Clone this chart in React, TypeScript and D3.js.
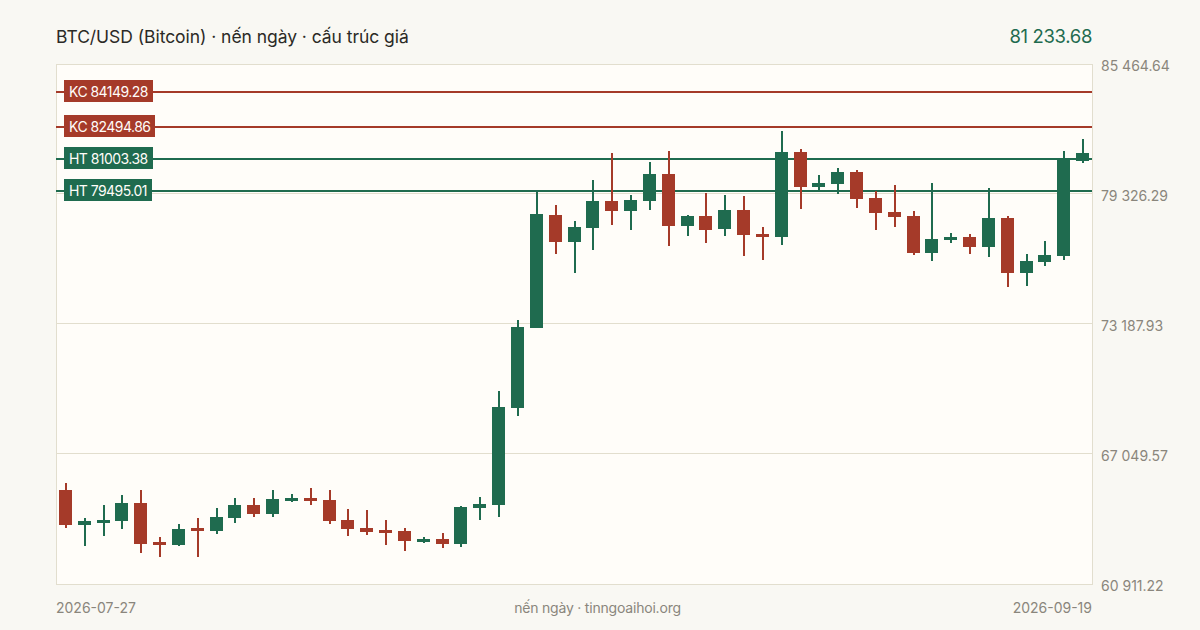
import { useEffect, useRef } from "react";
import * as d3 from "d3";

const FONT = "Inter, 'Noto Sans', sans-serif";
const GREEN = "#1f6b4f";
const RED = "#a53a29";

const titleText = "BTC/USD (Bitcoin) · nến ngày · cấu trúc giá";
const lastPriceText = "81 233.68";
const sourceText = "nến ngày · tinngoaihoi.org";
const firstDate = "2026-07-27";
const lastDate = "2026-09-19";

const priceTop = 85464.64;
const priceBottom = 60911.22;
const gridValues = [79326.29, 73187.93, 67049.57];
const axisValues = [85464.64, 79326.29, 73187.93, 67049.57, 60911.22];
const axisLabels = ["85 464.64", "79 326.29", "73 187.93", "67 049.57", "60 911.22"];

// key levels: KC = resistance, HT = support
const levelNames = ["KC 84149.28", "KC 82494.86", "HT 81003.38", "HT 79495.01"];
const levelValues = [84149.28, 82494.86, 81003.38, 79495.01];
const levelColors = [RED, RED, GREEN, GREEN];

const opens = [
  65350, 63697, 63792, 63886, 64736, 62894, 62753, 63555, 63414, 64028, 64641,
  64216, 64830, 64972, 64878, 63933, 63555, 63461, 63414, 62894, 63036, 62800,
  64500, 64641, 69222, 72999, 78335, 77060, 77721, 78996, 78524, 78996, 80271,
  77815, 78288, 77674, 78571, 77437, 77296, 81310, 79657, 79799, 80365, 79138,
  78476, 78288, 76540, 77154, 77296, 76824, 78193, 75596, 76115, 76399, 80884,
];
const highs = [
  65680, 64028, 64641, 65114, 65350, 63131, 63744, 64028, 64500, 64972, 64972,
  65350, 65161, 65444, 65350, 64453, 64405, 63933, 63555, 63131, 63319, 64594,
  65019, 70025, 73377, 79468, 78807, 78051, 79987, 81262, 79279, 80837, 81357,
  78335, 79374, 79279, 79232, 77768, 82301, 81451, 80223, 80554, 80460, 79468,
  79751, 78524, 79846, 77485, 77437, 79610, 78288, 76493, 77107, 81357, 81923,
];
const lows = [
  63555, 62705, 63178, 63508, 62375, 62186, 62705, 62186, 63272, 63792, 64075,
  64075, 64783, 64641, 63744, 63178, 63225, 62753, 62469, 62847, 62611, 62658,
  63933, 64075, 68844, 72999, 76493, 75596, 76682, 77862, 77626, 78571, 76871,
  77343, 77013, 77343, 76399, 76210, 76918, 78618, 79468, 79326, 78665, 77626,
  77768, 76446, 76163, 77013, 76493, 76351, 74935, 74982, 75927, 76210, 80790,
];
const closes = [
  63697, 63886, 63933, 64736, 62800, 62753, 63508, 63414, 64075, 64641, 64216,
  64925, 64972, 64830, 63886, 63508, 63367, 63319, 62942, 63036, 62800, 64547,
  64689, 69269, 73047, 78382, 77060, 77768, 78996, 78524, 79043, 80271, 77815,
  78288, 77626, 78571, 77390, 77296, 81310, 79657, 79846, 80365, 79090, 78429,
  78240, 76540, 77201, 77296, 76824, 78193, 75596, 76163, 76446, 81026, 81262,
];

const App = () => {
  const svgRef = useRef<SVGSVGElement>(null);

  useEffect(() => {
    const svg = d3.select(svgRef.current);
    svg.selectAll("*").remove();

    const plot = { left: 56, right: 1092, top: 64, bottom: 584 };

    const x = d3
      .scaleBand<number>()
      .domain(d3.range(opens.length))
      .range([plot.left, plot.right])
      .paddingInner(0.31)
      .paddingOuter(0.155);
    const y = d3
      .scaleLinear()
      .domain([priceBottom, priceTop])
      .range([plot.bottom, plot.top]);

    // Background and plot frame
    svg.append("rect").attr("width", 1200).attr("height", 630).attr("fill", "#f9f8f3");
    svg
      .append("rect")
      .attr("x", plot.left + 0.5)
      .attr("y", plot.top + 0.5)
      .attr("width", plot.right - plot.left)
      .attr("height", plot.bottom - plot.top)
      .attr("fill", "#fffdf9")
      .attr("stroke", "#e2dece");

    // Grid
    svg
      .selectAll(".grid")
      .data(gridValues)
      .enter()
      .append("line")
      .attr("x1", plot.left)
      .attr("x2", plot.right)
      .attr("y1", (d) => Math.round(y(d)) - 0.5)
      .attr("y2", (d) => Math.round(y(d)) - 0.5)
      .attr("stroke", "#e2dece");

    // Level lines sit under the candles
    svg
      .selectAll(".level")
      .data(levelValues)
      .enter()
      .append("rect")
      .attr("x", plot.left)
      .attr("y", (d) => Math.ceil(y(d)) - 1)
      .attr("width", plot.right - plot.left)
      .attr("height", 2)
      .attr("fill", (_, i) => levelColors[i]);

    // Candles
    const candle = svg
      .selectAll(".candle")
      .data(d3.range(opens.length))
      .enter()
      .append("g")
      .attr("fill", (i) => (closes[i] >= opens[i] ? GREEN : RED));
    candle
      .append("rect")
      .attr("x", (i) => Math.round(x(i)!) + 6)
      .attr("y", (i) => Math.round(y(highs[i])))
      .attr("width", 2)
      .attr("height", (i) => Math.round(y(lows[i])) - Math.round(y(highs[i])));
    candle
      .append("rect")
      .attr("x", (i) => Math.round(x(i)!))
      .attr("y", (i) => Math.round(y(Math.max(opens[i], closes[i]))))
      .attr("width", Math.round(x.bandwidth()))
      .attr(
        "height",
        (i) => Math.round(y(Math.min(opens[i], closes[i]))) - Math.round(y(Math.max(opens[i], closes[i])))
      );

    // Level tags
    levelNames.forEach((name, i) => {
      const cy = Math.ceil(y(levelValues[i]));
      const tag = svg.append("g");
      const rect = tag
        .append("rect")
        .attr("x", 64)
        .attr("y", cy - 12)
        .attr("height", 22)
        .attr("fill", levelColors[i]);
      const label = tag
        .append("text")
        .attr("x", 69)
        .attr("y", cy + 5)
        .attr("font-family", FONT)
        .attr("font-size", 14)
        .attr("letter-spacing", -0.55)
        .attr("fill", "#fffdf9")
        .text(name);
      const w = (label.node() as SVGTextElement).getComputedTextLength();
      rect.attr("width", Math.round(w) + 10);
    });

    // Price axis labels
    svg
      .selectAll(".axisLabel")
      .data(axisValues)
      .enter()
      .append("text")
      .attr("x", 1101)
      .attr("y", (d) => y(d) + 7)
      .attr("font-family", FONT)
      .attr("font-size", 14)
      .attr("fill", "#8a867c")
      .text((_, i) => axisLabels[i]);

    // Header
    svg
      .append("text")
      .attr("x", 56)
      .attr("y", 43)
      .attr("font-family", FONT)
      .attr("font-size", 17.5)
      .attr("letter-spacing", -0.05)
      .attr("fill", "#2b2a26")
      .text(titleText);
    svg
      .append("text")
      .attr("x", 1092)
      .attr("y", 43)
      .attr("text-anchor", "end")
      .attr("font-family", FONT)
      .attr("font-size", 18.5)
      .attr("letter-spacing", -0.35)
      .attr("fill", GREEN)
      .text(lastPriceText);

    // Footer
    const footer = [
      { text: firstDate, x: 56, anchor: "start", spacing: 0 },
      { text: sourceText, x: 597.5, anchor: "middle", spacing: -0.2 },
      { text: lastDate, x: 1092, anchor: "end", spacing: 0 },
    ];
    svg
      .selectAll(".footer")
      .data(footer)
      .enter()
      .append("text")
      .attr("x", (d) => d.x)
      .attr("y", 613)
      .attr("text-anchor", (d) => d.anchor)
      .attr("letter-spacing", (d) => d.spacing)
      .attr("font-family", FONT)
      .attr("font-size", 14)
      .attr("fill", "#8a867c")
      .text((d) => d.text);
  }, []);

  return (
    <svg
      ref={svgRef}
      width="1200"
      height="630"
      style={{ position: "fixed", left: 0, top: 0, display: "block" }}
    ></svg>
  );
};

export default App;
